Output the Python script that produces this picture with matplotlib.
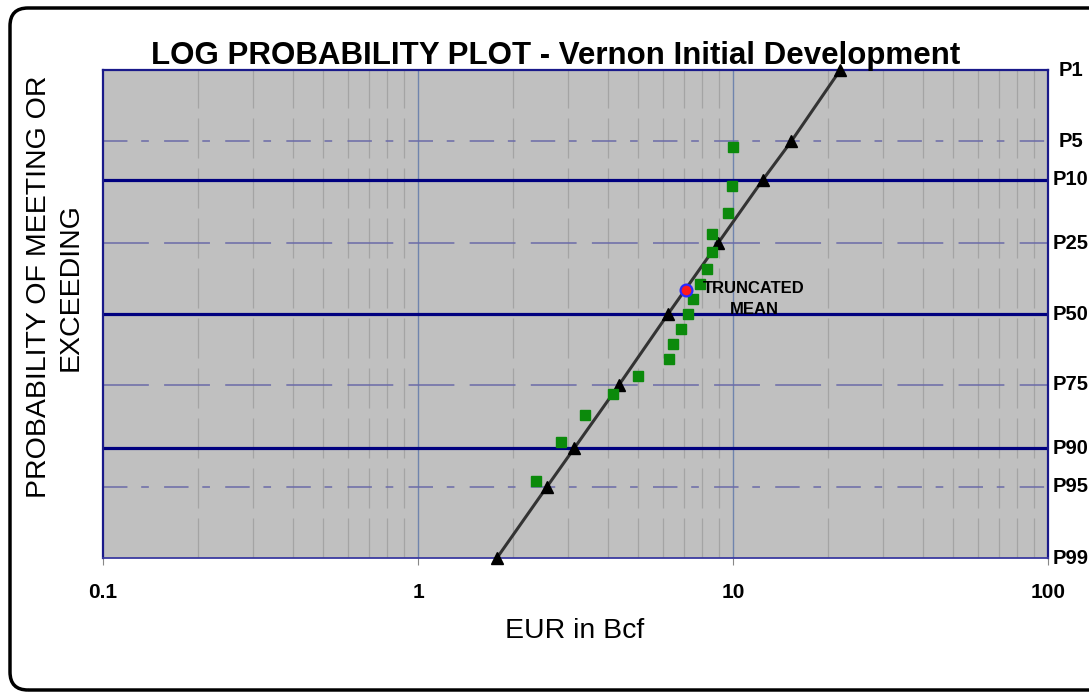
import matplotlib
matplotlib.use('Agg')
import matplotlib.pyplot as plt
from matplotlib.patches import FancyBboxPatch
import matplotlib.transforms as mtransforms
from statistics import NormalDist

plt.rcParams['font.family'] = ['Liberation Sans', 'DejaVu Sans']

# probability of meeting or exceeding (%) -> right-hand labels
p_levels = [1, 5, 10, 25, 50, 75, 90, 95, 99]
p_labels = ['P1', 'P5', 'P10', 'P25', 'P50', 'P75', 'P90', 'P95', 'P99']

# lognormal fit (black triangles), EUR in Bcf
fit_prob = [1, 5, 10, 25, 50, 75, 90, 95, 99]
fit_eur = [21.9, 15.3, 12.45, 8.96, 6.22, 4.35, 3.13, 2.57, 1.78]

# well data (green squares)
well_prob = [5.6, 11.1, 16.7, 22.2, 27.8, 33.3, 38.9, 44.4, 50.0,
             55.6, 61.1, 66.7, 72.2, 77.8, 83.3, 88.9, 94.4]
well_eur = [9.98, 9.91, 9.66, 8.60, 8.60, 8.25, 7.86, 7.45, 7.18,
            6.85, 6.46, 6.26, 5.00, 4.15, 3.40, 2.84, 2.37]

# truncated mean
mean_prob = 41.0
mean_eur = 7.09

x_ticks = [0.1, 1, 10, 100]
x_ticklabels = ['0.1', '1', '10', '100']


def pz(p):
    # exceedance percent -> normal score (P1 at top)
    return NormalDist().inv_cdf(1 - p / 100.0)


fig = plt.figure(figsize=(10.89, 6.96), dpi=100)
ax = fig.add_axes([103 / 1089, 1 - 558 / 696, 945 / 1089, 488 / 696])
ax.set_facecolor('#c0c0c0')
ax.set_xscale('log')
ax.set_xlim(0.1, 100)
ax.set_ylim(pz(99), pz(1))

# vertical grid
for dec in [0.1, 1, 10]:
    for m in range(2, 10):
        ax.axvline(dec * m, color='#a4a4a4', lw=0.9, dashes=(32, 8), zorder=1)
for v in [1, 10]:
    ax.axvline(v, color='#6f84ad', lw=1.0, zorder=1)

# horizontal grid
for p in [10, 50, 90]:
    ax.axhline(pz(p), color='#00007f', lw=2.3, zorder=2)
for p in [5, 95]:
    ax.axhline(pz(p), color='#6a6aa8', lw=1.1, dashes=(16, 9, 5, 10), zorder=2)
for p in [25, 75]:
    ax.axhline(pz(p), color='#6a6aa8', lw=1.1, dashes=(30, 10), zorder=2)

# fit line + data
ax.plot(fit_eur, [pz(p) for p in fit_prob], color='#333333', lw=2.2,
        marker='^', ms=9, mfc='black', mec='black', zorder=4, clip_on=False)
ax.plot(well_eur, [pz(p) for p in well_prob], ls='none', marker='s', ms=7,
        mfc='#0b8a0b', mec='#0b8a0b', zorder=5)
ax.plot([mean_eur], [pz(mean_prob)], ls='none', marker='o', ms=8.5,
        mfc='#ff1a1a', mec='#2a2aff', mew=1.6, zorder=6)
ax.annotate('TRUNCATED\nMEAN', (mean_eur, pz(mean_prob)), xytext=(68, -9),
            textcoords='offset pixels', ha='center', va='center',
            multialignment='center', fontsize=12, fontweight='bold',
            linespacing=1.45, zorder=7)

# axes styling
for s in ['left', 'top', 'right']:
    ax.spines[s].set_color('#1a1a8a')
    ax.spines[s].set_linewidth(1.6)
ax.spines['bottom'].set_color('#3a3aa0')
ax.spines['bottom'].set_linewidth(1.3)

ax.set_xticks(x_ticks)
ax.set_xticklabels(x_ticklabels)
ax.xaxis.set_minor_locator(matplotlib.ticker.NullLocator())
ax.tick_params(axis='x', which='major', length=5, color='#888888', pad=13,
               labelsize=15)
for t in ax.get_xticklabels():
    t.set_fontweight('bold')
ax.set_yticks([])

trans = mtransforms.blended_transform_factory(ax.transAxes, ax.transData)
for p, lab in zip(p_levels, p_labels):
    ax.text(1.0243, pz(p), lab, transform=trans, ha='center', va='center',
            fontsize=14.5, fontweight='bold')

fig.text(556 / 1089, 1 - 64 / 696, 'LOG PROBABILITY PLOT - Vernon Initial Development',
         ha='center', va='baseline', fontsize=22.5, fontweight='bold')
fig.text(575 / 1089, 1 - 631 / 696, 'EUR in Bcf', ha='center', va='center',
         fontsize=20.5)
fig.text(55 / 1089, 1 - 287 / 696, 'PROBABILITY OF MEETING OR\nEXCEEDING',
         ha='center', va='center', rotation=90, multialignment='center',
         fontsize=20.5, linespacing=1.25)

# outer rounded border
border = FancyBboxPatch((10, 6), 1110, 682, boxstyle='round,pad=0,rounding_size=18',
                        transform=None, fill=False, ec='black', lw=2.5)
fig.add_artist(border)

fig.savefig('out.png', dpi=100)
